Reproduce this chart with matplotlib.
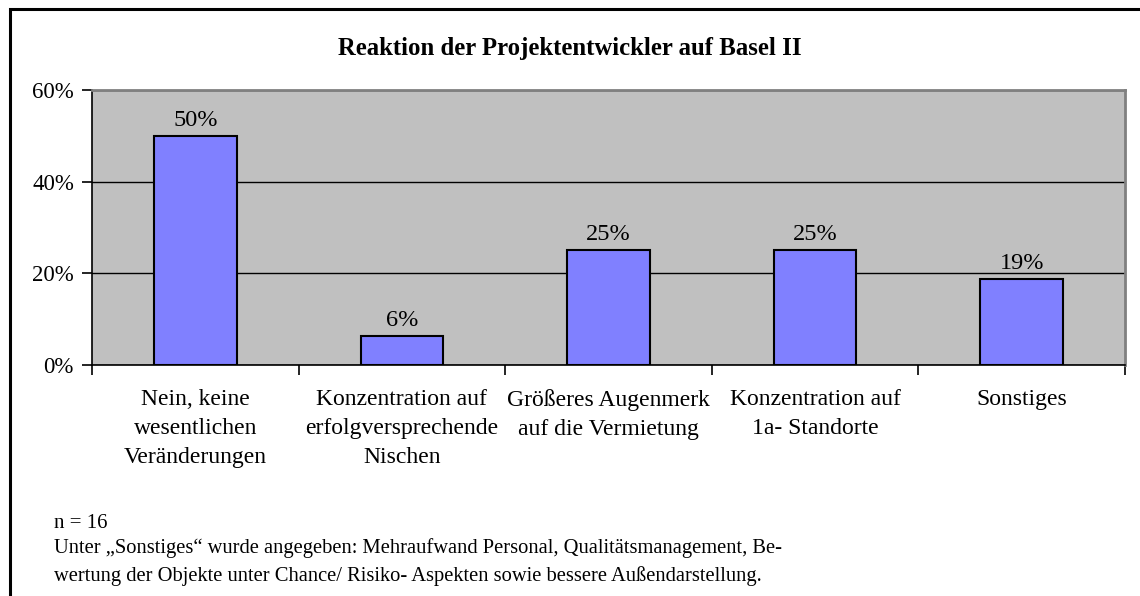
import matplotlib.pyplot as plt
import numpy as np
from matplotlib.patches import Rectangle

plt.rcParams['font.family'] = ['Liberation Serif', 'DejaVu Serif']

categories = ['Nein, keine\nwesentlichen\nVeränderungen',
              'Konzentration auf\nerfolgversprechende\nNischen',
              'Größeres Augenmerk\nauf die Vermietung',
              'Konzentration auf\n1a- Standorte',
              'Sonstiges']
# share of answers, n = 16
values = [50.0, 6.25, 25.0, 25.0, 18.75]
y_ticks = [0, 20, 40, 60]

title = 'Reaktion der Projektentwickler auf Basel II'
note_n = 'n = 16'
note_text = ('Unter „Sonstiges“ wurde angegeben: Mehraufwand Personal, Qualitätsmanagement, Be-\n'
             'wertung der Objekte unter Chance/ Risiko- Aspekten sowie bessere Außendarstellung.')

fig = plt.figure(figsize=(11.4, 5.96), dpi=100)
ax = fig.add_axes([92 / 1140, 1 - 365 / 596, (1125 - 92) / 1140, (365 - 90) / 596])

# frame around the whole chart
fig.patches.append(Rectangle((10 / 1140, -0.1), 1.2, 1 - 9 / 596 + 0.1,
                             transform=fig.transFigure, fill=False,
                             edgecolor='black', linewidth=2.2))

x = np.arange(len(values))
ax.set_facecolor('#C0C0C0')
bars = ax.bar(x, values, width=0.4, color='#8080FF', edgecolor='black',
              linewidth=1.5, zorder=3)

for rect, v in zip(bars, values):
    ax.text(rect.get_x() + rect.get_width() / 2, v + 1.1, '%.0f%%' % v,
            ha='center', va='bottom', fontsize=17.5, zorder=4)

ax.set_xlim(-0.5, len(values) - 0.5)
ax.set_ylim(0, 60)
ax.set_yticks(y_ticks)
ax.set_yticklabels(['%d%%' % t for t in y_ticks], fontsize=16.5)
ax.yaxis.grid(True, color='black', linewidth=1.0, zorder=1)
ax.set_axisbelow(True)

ax.set_xticks(x)
ax.set_xticklabels(categories, fontsize=17, linespacing=1.5)
ax.set_xticks(np.arange(len(values) + 1) - 0.5, minor=True)
ax.tick_params(axis='x', which='major', length=0, pad=17)
ax.tick_params(axis='x', which='minor', length=7, width=1.2, direction='out')
ax.tick_params(axis='y', length=7, width=1.2, direction='out', pad=6)

for side in ['left', 'bottom']:
    ax.spines[side].set_color('black')
    ax.spines[side].set_linewidth(1.2)
for side in ['top', 'right']:
    ax.spines[side].set_color('#808080')
    ax.spines[side].set_linewidth(2)

fig.text(570 / 1140, 1 - 48 / 596, title, ha='center', va='center',
         fontsize=17.8, fontweight='bold')
fig.text(54 / 1140, 1 - 523 / 596, note_n, ha='left', va='center', fontsize=15)
fig.text(54 / 1140, 1 - 562 / 596, note_text, ha='left', va='center',
         fontsize=14.8, linespacing=1.5)

fig.savefig('out.png', dpi=100)
